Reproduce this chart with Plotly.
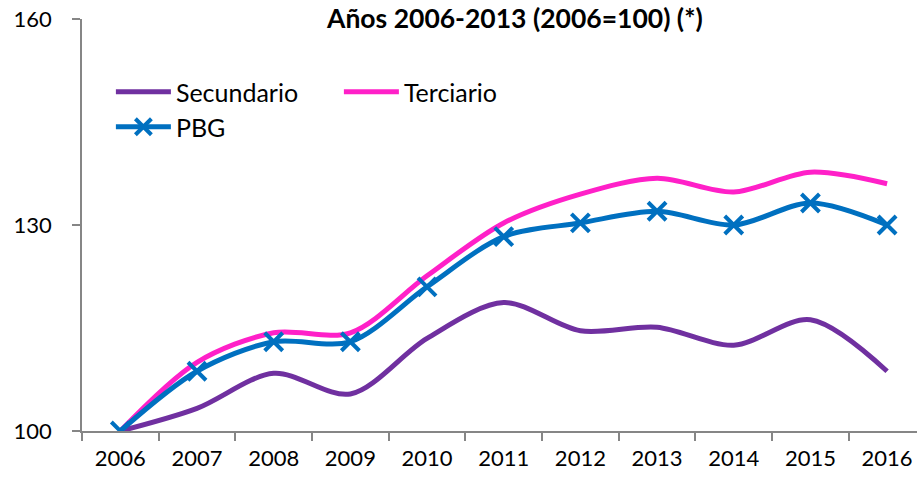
import plotly.graph_objects as go

years = ["2006", "2007", "2008", "2009", "2010", "2011", "2012", "2013", "2014", "2015", "2016"]
secundario = [100, 103.3, 108.4, 105.4, 113.5, 118.7, 114.6, 115.1, 112.5, 116.2, 108.7]
terciario = [100, 110.0, 114.3, 114.3, 122.6, 130.3, 134.5, 136.8, 134.8, 137.7, 136.0]
pbg = [100, 108.7, 113.0, 113.0, 121.0, 128.3, 130.3, 132.0, 130.0, 133.2, 130.0]
y_ticks = [100, 130, 160]
title_text = "Años 2006-2013 (2006=100) (*)"

FONT = "Lato"
fig = go.Figure()
fig.add_trace(go.Scatter(x=years, y=secundario, name="Secundario", mode="lines",
                         line=dict(color="#7030A0", width=5, shape="spline", smoothing=0.9),
                         legend="legend"))
fig.add_trace(go.Scatter(x=years, y=terciario, name="Terciario", mode="lines",
                         line=dict(color="#FF20C8", width=5, shape="spline", smoothing=0.9),
                         legend="legend"))
fig.add_trace(go.Scatter(x=years, y=pbg, name="PBG", mode="lines+markers",
                         line=dict(color="#0070C0", width=5, shape="spline", smoothing=0.9),
                         marker=dict(symbol="x-thin", size=18, color="#0070C0",
                                     line=dict(color="#0070C0", width=4)),
                         legend="legend2"))

fig.update_layout(
    width=917, height=479,
    margin=dict(l=82, r=0, t=19, b=48, autoexpand=False),
    paper_bgcolor="white", plot_bgcolor="white",
    font=dict(family=FONT, size=20, color="black"),
    legend=dict(orientation="h", x=0.0346, y=(431 - 92) / 412, xanchor="left", yanchor="middle",
                itemwidth=55, entrywidth=158, entrywidthmode="pixels",
                font=dict(family=FONT, size=25), bgcolor="rgba(0,0,0,0)",
                tracegroupgap=0),
    legend2=dict(orientation="h", x=0.0346, y=(431 - 127) / 412, xanchor="left", yanchor="middle",
                 itemwidth=55, font=dict(family=FONT, size=25), bgcolor="rgba(0,0,0,0)"),
    showlegend=True,
    annotations=[dict(text="<b>" + title_text + "</b>", x=(514 - 82) / 835, xref="paper",
                      y=1.0035, yref="paper", xanchor="center", yanchor="middle",
                      showarrow=False, font=dict(family=FONT, size=26.5, color="black"))],
)

fig.update_xaxes(type="category", range=[-0.5, 10.39], showgrid=False, zeroline=False,
                 showline=True, linecolor="#868686", linewidth=1.5,
                 ticks="outside", tickson="boundaries", ticklen=8, tickcolor="#868686",
                 tickwidth=1.5, tickfont=dict(family=FONT, size=22), ticklabelstandoff=7)
fig.update_yaxes(range=[100, 160], tickvals=y_ticks, showgrid=False, zeroline=False,
                 showline=True, linecolor="#868686", linewidth=1.5,
                 ticks="outside", ticklen=8, tickcolor="#868686", tickwidth=1.5,
                 tickfont=dict(family=FONT, size=22), ticklabelstandoff=16)

fig.write_html("out.html", config={"displayModeBar": False},
               post_script="document.body.style.margin='0';document.body.style.padding='0';")
